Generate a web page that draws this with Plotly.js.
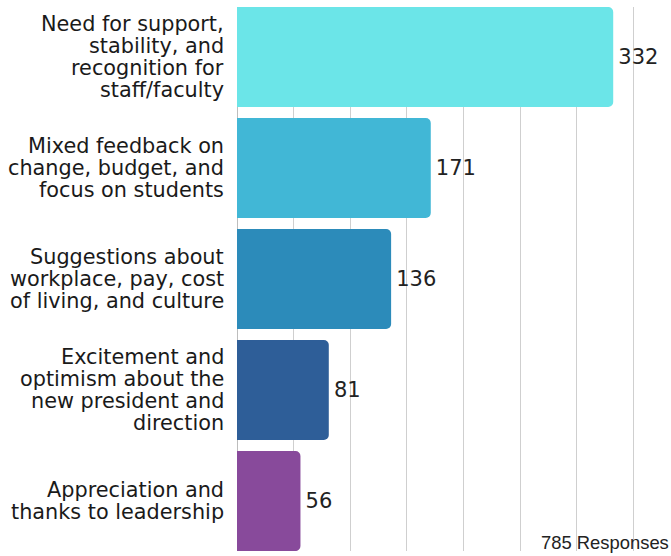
<!DOCTYPE html>
<html>
<head>
<meta charset="utf-8">
<script src="https://cdn.plot.ly/plotly-3.0.1.min.js"></script>
<style>html,body{margin:0;padding:0;background:#fff;}#chart{width:671px;height:556px;}</style>
</head>
<body>
<div id="chart"></div>
<script>
var categories = [
  "Need for support,<br>stability, and<br>recognition for<br>staff/faculty",
  "Mixed feedback on<br>change, budget, and<br>focus on students",
  "Suggestions about<br>workplace, pay, cost<br>of living, and culture",
  "Excitement and<br>optimism about the<br>new president and<br>direction",
  "Appreciation and<br>thanks to leadership"
];
var values = [332, 171, 136, 81, 56];
var barColors = ["#6be5e8", "#41b7d6", "#2c8bba", "#2e5e98", "#884a9b"];
var totalLabel = "785 Responses";

var trace = {
  type: "bar",
  orientation: "h",
  x: values,
  y: categories,
  marker: {color: barColors, line: {width: 0}},
  text: values.map(function (v) { return "\u200A" + v; }),
  textposition: "outside",
  textfont: {family: "DejaVu Sans", size: 21, color: "#222"},
  cliponaxis: false,
  hoverinfo: "none"
};

var annotations = [];
var LINE = 22;
categories.forEach(function (c) {
  var lines = c.split("<br>");
  var n = lines.length;
  lines.forEach(function (ln, i) {
    annotations.push({
      xref: "paper", yref: "y", x: 0, y: c,
      xanchor: "right", yanchor: "middle",
      xshift: -11, yshift: ((n - 1) / 2 - i) * LINE,
      text: ln, showarrow: false,
      font: {family: "DejaVu Sans", size: 20.8, color: "#1a1a1a"}
    });
  });
});
annotations.push({
  xref: "paper", yref: "paper", x: 1, y: 0.0165,
  xanchor: "right", yanchor: "middle",
  text: totalLabel, showarrow: false,
  font: {family: "Liberation Sans", size: 18.4, color: "#222"}
});

var layout = {
  width: 671, height: 556,
  margin: {l: 237, r: 0, t: 7, b: 5},
  paper_bgcolor: "#fff", plot_bgcolor: "#fff",
  bargap: 0.099,
  barcornerradius: 5,
  showlegend: false,
  xaxis: {
    range: [0, 383], dtick: 50, tick0: 0,
    showgrid: true, gridcolor: "#cfcfcf", gridwidth: 1,
    zeroline: true, zerolinecolor: "#bdbdbd", zerolinewidth: 1,
    showticklabels: false, ticks: "", fixedrange: true
  },
  yaxis: {
    type: "category",
    range: [4.45, -0.45],
    showticklabels: false, ticks: "", showgrid: false, zeroline: false,
    fixedrange: true
  },
  annotations: annotations
};

Plotly.newPlot("chart", [trace], layout, {displayModeBar: false, staticPlot: true});
</script>
</body>
</html>
